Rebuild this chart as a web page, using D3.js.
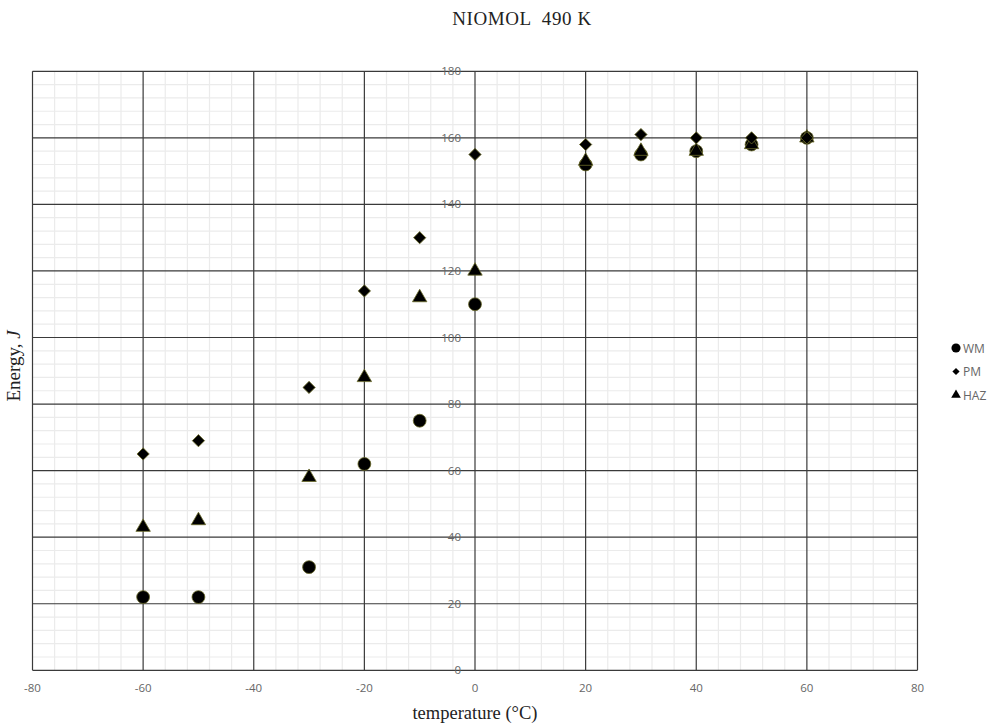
<!DOCTYPE html>
<html><head><meta charset="utf-8">
<script src="https://cdn.jsdelivr.net/npm/d3@7"></script>
<style>body{margin:0;background:#fff}svg{display:block}</style>
</head><body>
<svg id="c" width="987" height="725"></svg>
<script>
const temps = [-60,-50,-30,-20,-10,0,20,30,40,50,60];
const WM  = [22,22,31,62,75,110,152,155,156,158,160];
const PM  = [65,69,85,114,130,155,158,161,160,160,160];
const HAZ = [43,45,58,88,112,120,153,156,156,158,160];
const xTicks = [-80,-60,-40,-20,0,20,40,60,80];
const yTicks = [0,20,40,60,80,100,120,140,160,180];
const seriesNames = ["WM","PM","HAZ"];

const svg = d3.select("#c");
const L=32.5, R=917.5, T=71.3, B=670.3;
const x = d3.scaleLinear().domain([-80,80]).range([L,R]);
const y = d3.scaleLinear().domain([0,180]).range([B,T]);

const g = svg.append("g");
const minorX = d3.range(-80,81,4).filter(v=>v%20!==0);
const minorY = d3.range(0,181,4).filter(v=>v%20!==0);
g.selectAll(".mx").data(minorX).enter().append("line")
 .attr("x1",d=>x(d)).attr("x2",d=>x(d)).attr("y1",T).attr("y2",B)
 .attr("stroke","#ebebeb").attr("stroke-width",1.2);
g.selectAll(".my").data(minorY).enter().append("line")
 .attr("y1",d=>y(d)).attr("y2",d=>y(d)).attr("x1",L).attr("x2",R)
 .attr("stroke","#ebebeb").attr("stroke-width",1.2);
g.selectAll(".Mx").data(xTicks).enter().append("line")
 .attr("x1",d=>x(d)).attr("x2",d=>x(d)).attr("y1",T).attr("y2",B)
 .attr("stroke","#3a3a3a").attr("stroke-width",1.2);
g.selectAll(".My").data(yTicks).enter().append("line")
 .attr("y1",d=>y(d)).attr("y2",d=>y(d)).attr("x1",L).attr("x2",R)
 .attr("stroke","#3a3a3a").attr("stroke-width",1.2);

svg.selectAll(".xt").data(xTicks).enter().append("text")
 .attr("x",d=>x(d)).attr("y",692).attr("text-anchor","middle")
 .attr("font-family","Open Sans, sans-serif").attr("font-size",11.5).attr("fill","#666")
 .text(d=>d);
svg.selectAll(".yt").data(yTicks).enter().append("text")
 .attr("x",x(0)-14).attr("y",d=>y(d)+4).attr("text-anchor","end")
 .attr("font-family","Open Sans, sans-serif").attr("font-size",11.5).attr("fill","#666")
 .text(d=>d);

const symCircle = d3.symbol().type(d3.symbolCircle).size(130);
const symDiamond = d3.symbol().type(d3.symbolSquare).size(75);
const symTri = d3.symbol().type(d3.symbolTriangle).size(90);
const syms = {WM:symCircle, PM:symDiamond, HAZ:symTri};
const rot = {WM:0, PM:45, HAZ:0};
const dataMap = {WM:WM, PM:PM, HAZ:HAZ};
["WM","HAZ","PM"].forEach(name=>{
  svg.append("g").selectAll("path").data(temps.map((t,i)=>({t,v:dataMap[name][i]})))
   .enter().append("path")
   .attr("d",syms[name]())
   .attr("transform",d=>`translate(${x(d.t)},${y(d.v)}) rotate(${rot[name]})`)
   .attr("fill","#000").attr("stroke","#6b6b2a").attr("stroke-width",0.8);
});

const leg = svg.append("g");
seriesNames.forEach((name,i)=>{
  const ly = 348 + i*23.5;
  const s = name==="WM"?d3.symbol().type(d3.symbolCircle).size(65):
            name==="PM"?d3.symbol().type(d3.symbolSquare).size(26):
            d3.symbol().type(d3.symbolTriangle).size(40);
  leg.append("path").attr("d",s()).attr("transform",`translate(956,${ly}) rotate(${rot[name]})`).attr("fill","#000");
  leg.append("text").attr("x",963).attr("y",ly+4.5).attr("font-family","Open Sans, sans-serif")
   .attr("font-size",12).attr("fill","#666").text(name);
});

svg.append("text").attr("x",522).attr("y",25).attr("text-anchor","middle")
 .attr("font-family","Liberation Serif, serif").attr("font-size",19).attr("letter-spacing",0.6)
 .attr("fill","#222").style("white-space","pre").text("NIOMOL  490 K");
svg.append("text").attr("x",475).attr("y",719).attr("text-anchor","middle")
 .attr("font-family","Liberation Serif, serif").attr("font-size",18.5).attr("fill","#222")
 .text("temperature (°C)");
const yl = svg.append("text").attr("transform","translate(20,366) rotate(-90)").attr("text-anchor","middle")
 .attr("font-family","Liberation Serif, serif").attr("font-size",19).attr("fill","#222");
yl.append("tspan").text("Energy, ");
yl.append("tspan").attr("font-style","italic").text("J");
</script>
</body></html>
